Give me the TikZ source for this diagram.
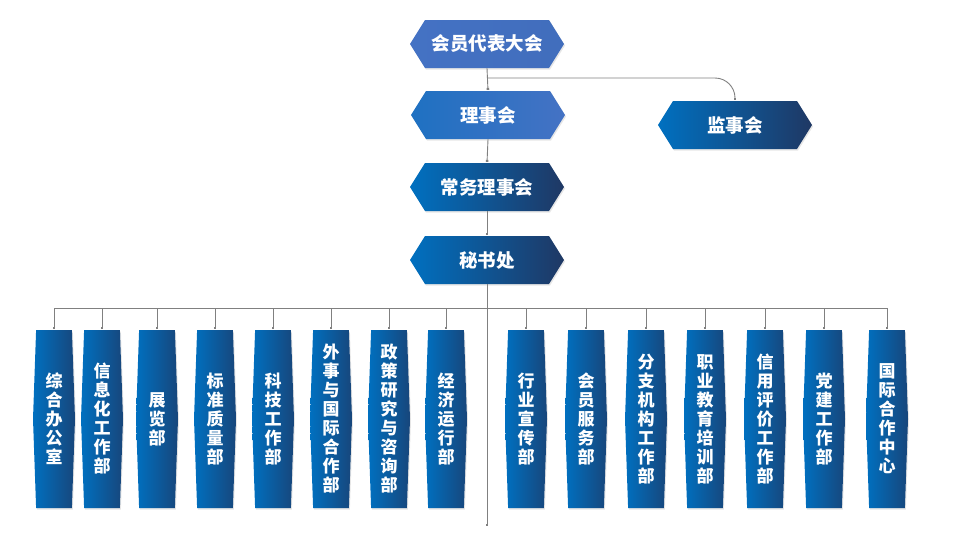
\documentclass[tikz,border=0pt]{standalone}
\usepackage{fontspec}
\newfontfamily\cjk{Noto Sans CJK SC}
\usetikzlibrary{arrows.meta,shapes.symbols,shadows}
\definecolor{ocean}{HTML}{0070C0}
\definecolor{navy}{HTML}{1F3864}
\definecolor{iris}{HTML}{4472C4}
\definecolor{wire}{HTML}{808080}

\begin{document}
\begin{tikzpicture}[x=1pt,y=-1pt,
  boardbox/.style={signal,signal to=east and west,signal pointer angle=116,
    minimum width=154pt,minimum height=48pt,inner sep=0pt,text=white,
    font=\cjk\bfseries\fontsize{18.5}{20}\selectfont,
    left color=ocean,middle color=ocean!85!navy,right color=navy,
    drop shadow={opacity=0.2,shadow xshift=1pt,shadow yshift=-1.5pt}},
  assemblybox/.style={boardbox,left color=iris,middle color=iris,right color=iris!92!navy},
  deptbox/.style={signal,signal to=east and west,signal pointer angle=176,
    minimum width=42pt,minimum height=178pt,inner sep=0pt,text=white,align=center,
    font=\cjk\bfseries\fontsize{17}{19}\selectfont,
    left color=ocean,middle color=ocean,right color=navy!75!ocean,
    drop shadow={opacity=0.2,shadow xshift=1pt,shadow yshift=-1.5pt}},
  link/.style={draw=wire,line width=0.9pt,-{Square[length=2pt,width=2.6pt]},shorten >=1pt},
  bus/.style={draw=wire,line width=0.9pt}]
\useasboundingbox (0,0) rectangle (976,533);

% upper levels
\node[assemblybox] (assembly) at (487,44) {会员代表大会};
\node[boardbox,left color=ocean!55!iris,middle color=iris,right color=iris] (council) at (488,115) {理事会};
\node[boardbox] (standing) at (487,187) {常务理事会};
\node[boardbox] (office) at (487,260) {秘书处};
\node[boardbox] (supervise) at (735,125) {监事会};

% departments
\node[deptbox] (d1) at (54,419) {综\\合\\办\\公\\室};
\node[deptbox] (d2) at (102,419) {信\\息\\化\\工\\作\\部};
\node[deptbox] (d3) at (157,419) {展\\览\\部};
\node[deptbox] (d4) at (215,419) {标\\准\\质\\量\\部};
\node[deptbox] (d5) at (273,419) {科\\技\\工\\作\\部};
\node[deptbox] (d6) at (331,419) {外\\事\\与\\国\\际\\合\\作\\部};
\node[deptbox] (d7) at (389,419) {政\\策\\研\\究\\与\\咨\\询\\部};
\node[deptbox] (d8) at (446,419) {经\\济\\运\\行\\部};
\node[deptbox] (d9) at (526,419) {行\\业\\宣\\传\\部};
\node[deptbox] (d10) at (586,419) {会\\员\\服\\务\\部};
\node[deptbox] (d11) at (646,419) {分\\支\\机\\构\\工\\作\\部};
\node[deptbox] (d12) at (705,419) {职\\业\\教\\育\\培\\训\\部};
\node[deptbox] (d13) at (765,419) {信\\用\\评\\价\\工\\作\\部};
\node[deptbox] (d14) at (824,419) {党\\建\\工\\作\\部};
\node[deptbox] (d15) at (887,419) {国\\际\\合\\作\\中\\心};

% connectors
\coordinate (fork) at (487,78);
\coordinate (trunk) at (487,527);
\coordinate (busl) at (54,308);
\coordinate (busr) at (887,308);
\draw[link] (assembly.south) -- (council.north);
\draw[link,rounded corners=20pt] (fork) -| (supervise.north);
\draw[link] (council.south) -- (standing.north);
\draw[link] (standing.south) -- (office.north);
\draw[link] (office.south) -- (trunk);
\draw[bus] (busl) -- (busr);
\draw[link] (d1 |- busl) -- (d1.north);
\draw[link] (d2 |- busl) -- (d2.north);
\draw[link] (d3 |- busl) -- (d3.north);
\draw[link] (d4 |- busl) -- (d4.north);
\draw[link] (d5 |- busl) -- (d5.north);
\draw[link] (d6 |- busl) -- (d6.north);
\draw[link] (d7 |- busl) -- (d7.north);
\draw[link] (d8 |- busl) -- (d8.north);
\draw[link] (d9 |- busl) -- (d9.north);
\draw[link] (d10 |- busl) -- (d10.north);
\draw[link] (d11 |- busl) -- (d11.north);
\draw[link] (d12 |- busl) -- (d12.north);
\draw[link] (d13 |- busl) -- (d13.north);
\draw[link] (d14 |- busl) -- (d14.north);
\draw[link] (d15 |- busl) -- (d15.north);
\end{tikzpicture}
\end{document}
